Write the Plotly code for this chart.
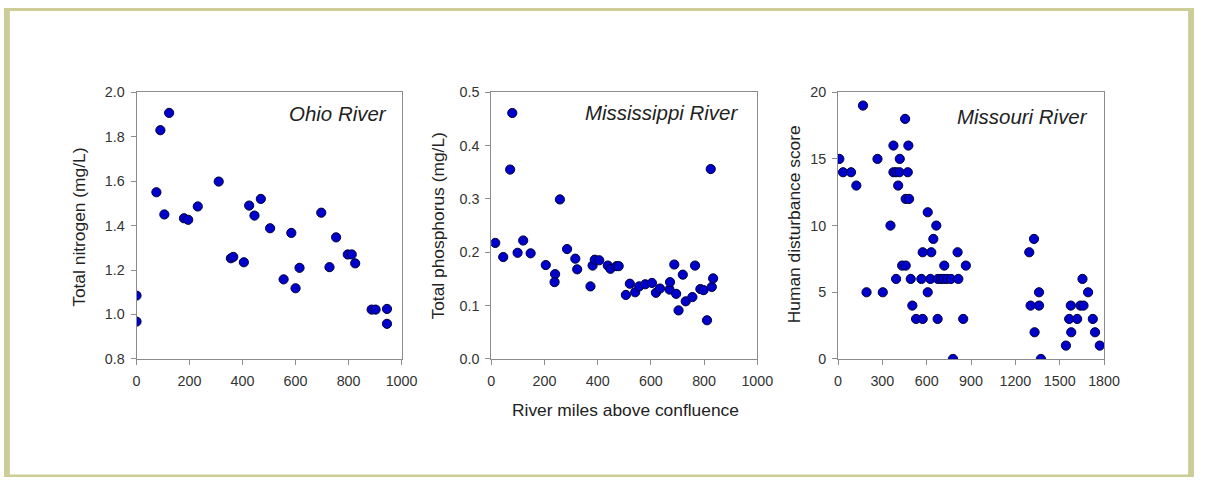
import plotly.graph_objects as go

# Ohio River: river miles vs total nitrogen (mg/L)
ohio_miles = [0, 0, 75, 90, 123, 105, 179, 195, 231, 310, 356, 365, 405, 425, 445, 469,
              504, 555, 584, 600, 615, 697, 728, 753, 797, 812, 825, 887, 902, 945, 945]
ohio_tn = [1.085, 0.968, 1.55, 1.829, 1.907, 1.45, 1.433, 1.426, 1.486, 1.598, 1.253, 1.259,
           1.235, 1.49, 1.445, 1.52, 1.388, 1.158, 1.367, 1.118, 1.21, 1.458, 1.213, 1.347,
           1.27, 1.27, 1.23, 1.022, 1.022, 1.025, 0.958]

# Mississippi River: river miles vs total phosphorus (mg/L)
miss_miles = [15, 45, 71, 79, 99, 120, 148, 205, 240, 238, 258, 285, 316, 323, 373, 381, 389,
              406, 438, 448, 471, 479, 506, 521, 541, 556, 579, 604, 619, 634, 670, 672, 688,
              695, 704, 720, 731, 756, 766, 786, 798, 811, 825, 829, 834]
miss_tp = [0.2175, 0.191, 0.355, 0.461, 0.199, 0.222, 0.198, 0.176, 0.159, 0.144, 0.299, 0.206,
           0.188, 0.168, 0.136, 0.175, 0.186, 0.185, 0.175, 0.169, 0.174, 0.174, 0.12, 0.141,
           0.125, 0.136, 0.14, 0.1425, 0.124, 0.132, 0.13, 0.144, 0.177, 0.122, 0.091, 0.158,
           0.108, 0.116, 0.175, 0.131, 0.129, 0.0725, 0.356, 0.135, 0.151]

# Missouri River: river miles vs human disturbance score
mo_miles = [9, 34, 88, 124, 169, 193, 267, 303, 355, 375, 375, 393, 393, 407, 418, 416, 434,
            454, 458, 458, 472, 476, 481, 492, 503, 528, 564, 573, 573, 607, 607, 625, 631,
            645, 665, 676, 674, 697, 719, 715, 737, 764, 778, 809, 814, 847, 865, 1294, 1303,
            1326, 1330, 1360, 1360, 1373, 1542, 1564, 1575, 1578, 1618, 1640, 1654, 1661,
            1692, 1724, 1739, 1771]
mo_score = [15, 14, 14, 13, 19, 5, 15, 5, 10, 16, 14, 14, 6, 13, 15, 14, 7, 18, 7, 12, 14, 16,
            12, 6, 4, 3, 6, 3, 8, 5, 11, 6, 8, 9, 10, 6, 3, 6, 7, 6, 6, 6, 0, 8, 6, 3, 7, 8, 4,
            9, 2, 5, 4, 0, 1, 3, 4, 2, 3, 4, 6, 4, 5, 3, 2, 1]

panel_titles = ["Ohio River", "Mississippi River", "Missouri River"]
y_titles = ["Total nitrogen (mg/L)", "Total phosphorus (mg/L)", "Human disturbance score"]
x_title = "River miles above confluence"

# reference canvas size; layout positions below are given in reference pixels
W, H = 1210, 485
# the photographed page appears slightly inset/shrunk; compensate for it
SX, SY = 0.987, 0.968
CX, CY = 4.0, 7.7
K = 1 / ((SX + SY) / 2)  # font / marker compensation
FONT = "Liberation Sans, Arial, sans-serif"
marker = dict(color="#0000cc", size=9 * K, line=dict(color="#00003a", width=1))

fig = go.Figure()
fig.add_trace(go.Scatter(x=ohio_miles, y=ohio_tn, mode="markers", marker=marker,
                         xaxis="x", yaxis="y", showlegend=False, hoverinfo="skip"))
fig.add_trace(go.Scatter(x=miss_miles, y=miss_tp, mode="markers", marker=marker,
                         xaxis="x2", yaxis="y2", showlegend=False, hoverinfo="skip"))
fig.add_trace(go.Scatter(x=mo_miles, y=mo_score, mode="markers", marker=marker,
                         xaxis="x3", yaxis="y3", showlegend=False, hoverinfo="skip"))

def px_x(o):
    p = (o - CX) / SX
    return min(max(p / W, 0.0), 1.0)

def px_y(o):
    p = (o - CY) / SY
    return min(max(1 - p / H, 0.0), 1.0)

axis_common = dict(showgrid=False, zeroline=False, showline=True, linecolor="#8c8c8c",
                   linewidth=1, mirror=True, ticks="outside", ticklen=5, tickcolor="#8c8c8c",
                   tickfont=dict(family=FONT, size=14 * K, color="#333333"))
xax = dict(ticklabelstandoff=4, **axis_common)
yax = dict(ticklabelstandoff=3, **axis_common)

ydom = [px_y(359), px_y(92)]
fig.update_layout(
    autosize=True,
    margin=dict(l=0, r=0, t=0, b=0, pad=0),
    paper_bgcolor="white", plot_bgcolor="white",
    xaxis=dict(domain=[px_x(137), px_x(403)], range=[0, 1000], tickvals=[0, 200, 400, 600, 800, 1000],
               anchor="y", **xax),
    yaxis=dict(domain=ydom, range=[0.8, 2.0], tickvals=[0.8, 1.0, 1.2, 1.4, 1.6, 1.8, 2.0],
               tickformat=".1f", anchor="x", **yax),
    xaxis2=dict(domain=[px_x(493), px_x(760)], range=[0, 1000], tickvals=[0, 200, 400, 600, 800, 1000],
                anchor="y2", **xax),
    yaxis2=dict(domain=ydom, range=[0, 0.5], tickvals=[0, 0.1, 0.2, 0.3, 0.4, 0.5],
                tickformat=".1f", anchor="x2", **yax),
    xaxis3=dict(domain=[px_x(841), px_x(1108)], range=[0, 1800],
                tickvals=[0, 300, 600, 900, 1200, 1500, 1800], anchor="y3", **xax),
    yaxis3=dict(domain=ydom, range=[0, 20], tickvals=[0, 5, 10, 15, 20], anchor="x3", **yax),
)

# panel titles (italic, top right inside each plot), right edge / vertical centre in ref px
title_pos = [(390, 113.5), (743, 112.3), (1094, 116)]
for (ox, oy), t in zip(title_pos, panel_titles):
    fig.add_annotation(xref="paper", yref="paper", x=px_x(ox), y=px_y(oy), text="<i>" + t + "</i>",
                       showarrow=False, xanchor="right", yanchor="middle",
                       font=dict(family=FONT, size=20 * K, color="#222222"))

# y-axis titles
for xpix, ypix, t in zip([79, 440, 797], [227, 226, 224], y_titles):
    fig.add_annotation(xref="paper", yref="paper", x=px_x(xpix), y=px_y(ypix), text=t,
                       textangle=-90, showarrow=False, xanchor="center", yanchor="middle",
                       font=dict(family=FONT, size=17 * K, color="#222222"))

# shared x-axis title
fig.add_annotation(xref="paper", yref="paper", x=px_x(628), y=px_y(410), text=x_title,
                   showarrow=False, xanchor="center", yanchor="middle",
                   font=dict(family=FONT, size=17 * K, color="#222222"))

# olive frame hugging the canvas edges (band thickness in canvas pixels)
OLIVE = "#cdcd97"
bands = [  # x0, x1, y0, y1 as canvas-pixel offsets (top-left origin)
    (0, 6, 0, H),          # left
    (0, W, 0, 3),          # top
    (W - 6, W, 0, H),      # right
    (0, W, H - 2.5, H),    # bottom
]
for x0, x1, y0, y1 in bands:
    fig.add_shape(type="rect", xref="paper", yref="paper",
                  x0=x0 / W, x1=x1 / W, y0=1 - y1 / H, y1=1 - y0 / H,
                  line=dict(width=0), fillcolor=OLIVE, layer="below")

fig.write_html(
    "out.html",
    default_width="100vw",
    default_height="100vh",
    config={"displayModeBar": False, "staticPlot": True, "responsive": True},
    post_script="document.body.style.margin='0px';document.body.style.overflow='hidden';"
                "document.documentElement.style.overflow='hidden';",
)
